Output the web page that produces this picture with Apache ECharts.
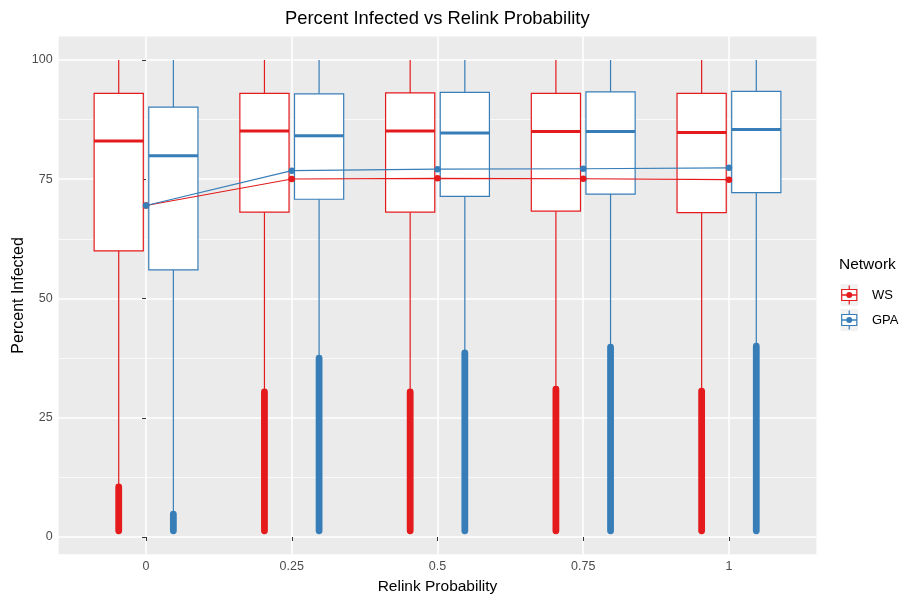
<!DOCTYPE html>
<html><head><meta charset="utf-8">
<script src="https://cdn.jsdelivr.net/npm/echarts@6/dist/echarts.min.js"></script>
<style>html,body{margin:0;padding:0;background:#fff}#c{width:899px;height:599px}</style>
</head><body><div id="c"></div>
<script>
// ---- data ----
const categories = ["0", "0.25", "0.5", "0.75", "1"];
const seriesNames = ["WS", "GPA"];
// [lowerWhisker, Q1, median, Q3, upperWhisker]
const wsBox = [
  [10.8, 60.0, 83.0, 93.0, 100],
  [30.6, 68.1, 85.1, 93.0, 100],
  [30.6, 68.1, 85.1, 93.1, 100],
  [31.2, 68.3, 85.0, 93.0, 100],
  [30.8, 68.0, 84.8, 93.0, 100]
];
const gpaBox = [
  [5.0, 56.0, 79.9, 90.1, 100],
  [37.7, 70.8, 84.1, 92.9, 100],
  [38.8, 71.4, 84.7, 93.2, 100],
  [40.0, 71.9, 85.0, 93.3, 100],
  [40.2, 72.2, 85.4, 93.4, 100]
];
// outlier clusters [min, max]
const wsOutliers = [[1.3, 10.5], [1.3, 30.4], [1.3, 30.4], [1.3, 31.0], [1.3, 30.6]];
const gpaOutliers = [[1.3, 4.8], [1.3, 37.5], [1.3, 38.6], [1.3, 39.8], [1.3, 40.0]];
const wsMean = [69.5, 75.05, 75.2, 75.1, 74.9];
const gpaMean = [69.5, 76.8, 77.1, 77.2, 77.4];
const yTicks = [0, 25, 50, 75, 100];
const yMinor = [12.5, 37.5, 62.5, 87.5];

const RED = "#E41A1C", BLUE = "#377EB8";
const FONT = "Liberation Sans";
const BOXW = 0.3375, OFF = 0.1875;

function boxData(arr, sign) { return arr.map((b, i) => [i, sign].concat(b)); }
function outData(arr, sign) { return arr.map((o, i) => [i, sign, o[0], o[1]]); }

function boxRender(color) {
  return function (params, api) {
    const xi = api.value(0), s = api.value(1);
    const xc = xi + s * OFF;
    const w = api.size([BOXW, 0])[0];
    const c = api.coord([xc, api.value(4)]);
    const pLo = api.coord([xc, api.value(2)]);
    const pQ1 = api.coord([xc, api.value(3)]);
    const pQ3 = api.coord([xc, api.value(5)]);
    const pHi = api.coord([xc, api.value(6)]);
    const x0 = c[0] - w / 2, x1 = c[0] + w / 2;
    const st = { stroke: color, lineWidth: 1.2, fill: null };
    return { type: "group", children: [
      { type: "line", shape: { x1: c[0], y1: pHi[1], x2: c[0], y2: pQ3[1] }, style: st },
      { type: "line", shape: { x1: c[0], y1: pQ1[1], x2: c[0], y2: pLo[1] }, style: st },
      { type: "rect", shape: { x: x0, y: pQ3[1], width: w, height: pQ1[1] - pQ3[1] }, style: { stroke: color, lineWidth: 1.2, fill: "#fff" } },
      { type: "line", shape: { x1: x0, y1: c[1], x2: x1, y2: c[1] }, style: { stroke: color, lineWidth: 3 } }
    ]};
  };
}
function outRender(color) {
  return function (params, api) {
    const xi = api.value(0), s = api.value(1);
    const xc = xi + s * OFF;
    const a = api.coord([xc, api.value(2)]);
    const b = api.coord([xc, api.value(3)]);
    const d = 6.8;
    return { type: "rect", shape: { x: a[0] - d / 2, y: b[1] - d / 2, width: d, height: a[1] - b[1] + d, r: d / 2 }, style: { fill: color } };
  };
}

const chart = echarts.init(document.getElementById("c"), null, { renderer: "canvas" });
const gridL = 58.6, gridR = 899 - 816.4, gridT = 36.6, gridB = 599 - 554.2;
const tickLabel = { color: "#4D4D4D", fontSize: 12.5, fontFamily: FONT };

function legendKey(y, color, label) {
  const kx = 840.5, kw = 17.5, kh = 22;
  const cx = kx + kw / 2, cy = y + kh / 2;
  return [
    { type: "rect", shape: { x: kx, y: y, width: kw, height: kh }, style: { fill: "#F2F2F2" } },
    { type: "line", shape: { x1: cx, y1: y + 1.5, x2: cx, y2: y + kh - 1.5 }, style: { stroke: color, lineWidth: 1.2 } },
    { type: "rect", shape: { x: kx + 1.2, y: y + kh * 0.25, width: kw - 2.4, height: kh * 0.5 }, style: { stroke: color, lineWidth: 1.2, fill: "#fff" } },
    { type: "line", shape: { x1: kx + 1.2, y1: cy, x2: kx + kw - 1.2, y2: cy }, style: { stroke: color, lineWidth: 1.5 } },
    { type: "circle", shape: { cx: cx, cy: cy, r: 3 }, style: { fill: color } },
    { type: "text", x: 872, y: cy, style: { text: label, fontSize: 13, fontFamily: FONT, fill: "#000", verticalAlign: "middle" } }
  ];
}

chart.setOption({
  animation: false,
  backgroundColor: "#fff",
  title: { text: "Percent Infected vs Relink Probability", left: 280, top: 5,
    textStyle: { fontSize: 18.4, fontWeight: "normal", fontFamily: FONT, color: "#000" } },
  grid: { left: gridL, right: gridR, top: gridT, bottom: gridB, show: true, backgroundColor: "#EBEBEB", borderWidth: 0,
    containLabel: false, outerBoundsMode: "none" },
  xAxis: { type: "value", min: -0.6, max: 4.6,
    name: "Relink Probability", nameLocation: "middle", nameGap: 25, nameMoveOverlap: false,
    nameTextStyle: { fontSize: 15.5, fontFamily: FONT, color: "#000" },
    axisLine: { show: false },
    axisTick: { show: true, length: 4, lineStyle: { color: "#333", width: 1 }, customValues: [0, 1, 2, 3, 4] },
    axisLabel: Object.assign({ customValues: [0, 1, 2, 3, 4], margin: 6, formatter: v => categories[Math.round(v)] }, tickLabel),
    splitLine: { show: true, lineStyle: { color: "#fff", width: 1.6 } } },
  yAxis: [{ type: "value", min: -3.6, max: 104.9,
    name: "Percent Infected", nameLocation: "middle", nameGap: 32, nameMoveOverlap: false,
    nameTextStyle: { fontSize: 16, fontFamily: FONT, color: "#000" },
    axisLine: { show: false },
    axisTick: { show: true, length: 4, lineStyle: { color: "#333", width: 1 }, customValues: yTicks },
    axisLabel: Object.assign({ customValues: yTicks, margin: 6 }, tickLabel),
    splitLine: { show: true, lineStyle: { color: "#fff", width: 1.6 } } },
   { type: "value", min: -3.6, max: 104.9, position: "left",
    axisLine: { show: false }, axisLabel: { show: false, customValues: yMinor },
    axisTick: { show: false, customValues: yMinor },
    splitLine: { show: true, lineStyle: { color: "#fff", width: 0.7 } } }],
  legend: { show: false },
  graphic: [
    { type: "text", x: 839, y: 265, style: { text: "Network", fontSize: 15.5, fontFamily: FONT, fill: "#000", verticalAlign: "middle" } }
  ].concat(legendKey(284, RED, "WS"), legendKey(309, BLUE, "GPA")),
  series: [
    { name: "WS", type: "custom", renderItem: boxRender(RED), data: boxData(wsBox, -1), z: 2, encode: { x: 0, y: [2, 6] } },
    { name: "GPA", type: "custom", renderItem: boxRender(BLUE), data: boxData(gpaBox, 1), z: 2, encode: { x: 0, y: [2, 6] } },
    { name: "WS outliers", type: "custom", renderItem: outRender(RED), data: outData(wsOutliers, -1), z: 3, encode: { x: 0, y: [2, 3] } },
    { name: "GPA outliers", type: "custom", renderItem: outRender(BLUE), data: outData(gpaOutliers, 1), z: 3, encode: { x: 0, y: [2, 3] } },
    { name: "WS mean", type: "line", data: wsMean.map((v, i) => [i, v]), z: 4,
      symbol: "circle", symbolSize: 6.5, showSymbol: true, itemStyle: { color: RED }, lineStyle: { color: RED, width: 1.2 } },
    { name: "GPA mean", type: "line", data: gpaMean.map((v, i) => [i, v]), z: 5,
      symbol: "circle", symbolSize: 6.5, showSymbol: true, itemStyle: { color: BLUE }, lineStyle: { color: BLUE, width: 1.2 } }
  ]
});
</script></body></html>
